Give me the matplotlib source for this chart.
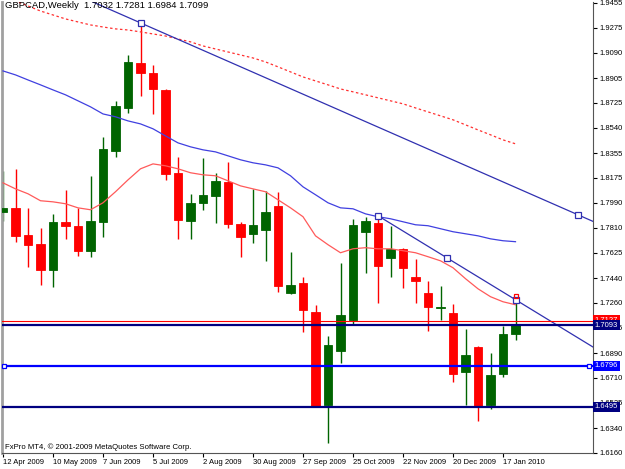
import matplotlib
matplotlib.use("Agg")
import matplotlib.pyplot as plt
import numpy as np

# weekly GBPCAD candles, week 0 = 12 Apr 2009
opens = [1.7925, 1.7954, 1.7757, 1.7691, 1.7501, 1.7852, 1.7823, 1.7640, 1.7852, 1.8372,
         1.8686, 1.9016, 1.8943, 1.8818, 1.8211, 1.7859, 1.7991, 1.8042, 1.8145, 1.7837,
         1.7764, 1.7793, 1.7969, 1.7332, 1.7405, 1.7193, 1.6512, 1.6908, 1.7135, 1.7779,
         1.7845, 1.7588, 1.7654, 1.7449, 1.7332, 1.7219, 1.7186, 1.6754, 1.6937, 1.6512,
         1.6739, 1.7032]
highs = [1.8225, 1.8240, 1.7954, 1.7808, 1.7910, 1.8086, 1.7954, 1.8189, 1.8474, 1.8738,
         1.9074, 1.9309, 1.9001, 1.8825, 1.8328, 1.8057, 1.8320, 1.8211, 1.8291, 1.7852,
         1.8093, 1.8079, 1.8072, 1.7632, 1.7449, 1.7244, 1.7017, 1.7552, 1.7874, 1.7889,
         1.7896, 1.7823, 1.7660, 1.7581, 1.7420, 1.7383, 1.7252, 1.7069, 1.6940, 1.6893,
         1.7091, 1.7281]
lows = [1.7859, 1.7706, 1.7523, 1.7391, 1.7376, 1.7727, 1.7603, 1.7596, 1.7742, 1.8328,
        1.8650, 1.8774, 1.8642, 1.8159, 1.7727, 1.7727, 1.7940, 1.7845, 1.7808, 1.7596,
        1.7698, 1.7566, 1.7340, 1.7325, 1.7047, 1.6498, 1.6234, 1.6820, 1.7098, 1.7479,
        1.7259, 1.7449, 1.7369, 1.7259, 1.7054, 1.7135, 1.6681, 1.6512, 1.6395, 1.6483,
        1.6717, 1.6984]
closes = [1.7954, 1.7749, 1.7684, 1.7501, 1.7852, 1.7823, 1.7640, 1.7859, 1.8386, 1.8701,
          1.9023, 1.8943, 1.8825, 1.8203, 1.7867, 1.7991, 1.8050, 1.8152, 1.7837, 1.7742,
          1.7830, 1.7925, 1.7383, 1.7391, 1.7208, 1.6498, 1.6952, 1.7171, 1.7830, 1.7859,
          1.7530, 1.7654, 1.7515, 1.7420, 1.7230, 1.7226, 1.6739, 1.6878, 1.6498, 1.6732,
          1.7032, 1.7099]

# moving averages
ma_fast = [1.8137, 1.8093, 1.8057, 1.8006, 1.7998, 1.7984, 1.7954, 1.7940, 1.7991, 1.8072,
           1.8159, 1.8240, 1.8276, 1.8262, 1.8240, 1.8211, 1.8196, 1.8189, 1.8152, 1.8115,
           1.8093, 1.8072, 1.8013, 1.7954, 1.7889, 1.7749, 1.7684, 1.7625, 1.7654, 1.7662,
           1.7654, 1.7654, 1.7640, 1.7625, 1.7596, 1.7566, 1.7515, 1.7435, 1.7361, 1.7303,
           1.7266, 1.7244]
ma_mid = [1.8957, 1.8928, 1.8891, 1.8855, 1.8818, 1.8782, 1.8738, 1.8694, 1.8642, 1.8621,
          1.8591, 1.8569, 1.8533, 1.8481, 1.8430, 1.8401, 1.8379, 1.8364, 1.8335, 1.8306,
          1.8284, 1.8269, 1.8247, 1.8189, 1.8108, 1.8050, 1.7991, 1.7954, 1.7947, 1.7910,
          1.7889, 1.7874, 1.7852, 1.7830, 1.7823, 1.7801, 1.7779, 1.7764, 1.7749, 1.7727,
          1.7713, 1.7706]
ma_slow = [1.9499, 1.9470, 1.9433, 1.9396, 1.9367, 1.9338, 1.9316, 1.9294, 1.9279, 1.9265,
           1.9257, 1.9243, 1.9228, 1.9213, 1.9191, 1.9170, 1.9140, 1.9118, 1.9096, 1.9074,
           1.9052, 1.9023, 1.8987, 1.8950, 1.8913, 1.8884, 1.8855, 1.8825, 1.8804, 1.8782,
           1.8760, 1.8738, 1.8716, 1.8686, 1.8657, 1.8628, 1.8599, 1.8562, 1.8525, 1.8489,
           1.8452, 1.8423]

# trendlines (week index, price)
trend1 = [(11, 1.9309), (46, 1.7903)]
trend2 = [(30, 1.7896), (41, 1.7281)]

levels = [1.7093, 1.6796, 1.6495]
level_colors = ["#000080", "#0000ff", "#000080"]
alert_level = 1.7127

ytick_vals = [1.9455, 1.9275, 1.9090, 1.8905, 1.8725, 1.8540, 1.8355, 1.8175, 1.7990,
              1.7810, 1.7625, 1.7440, 1.7260, 1.7075, 1.6890, 1.6710, 1.6525, 1.6340, 1.6160]
date_pos = [0, 4, 8, 12, 16, 20, 24, 28, 32, 36, 40]
date_labels = ["12 Apr 2009", "10 May 2009", "7 Jun 2009", "5 Jul 2009", "2 Aug 2009",
               "30 Aug 2009", "27 Sep 2009", "25 Oct 2009", "22 Nov 2009", "20 Dec 2009",
               "17 Jan 2010"]

plt.rcParams['font.family'] = ['Liberation Sans', 'DejaVu Sans']

fig = plt.figure(figsize=(6.25, 4.69), dpi=100)
ax = fig.add_axes([2 / 625, 16 / 469, 591 / 625, 451 / 469])

idx = np.arange(len(opens))
o = np.array(opens)
c = np.array(closes)
up = c >= o
cols = np.where(up, "#006400", "#ff0000")

ax.vlines(idx, lows, highs, colors=cols, lw=1, zorder=2)
ax.bar(idx, c - o, bottom=o, width=0.66, color=cols, edgecolor=cols, lw=0.6, zorder=3)

ax.plot(idx, ma_fast, color="#ff5a5a", lw=0.9, zorder=4)
ax.plot(idx, ma_mid, color="#4040e0", lw=0.9, zorder=4)
ax.plot(idx, ma_slow, color="#ff3030", lw=0.9, ls=(0, (2, 2)), zorder=4)

tc = "#3030b0"
ax.axline(trend1[0], trend1[1], color=tc, lw=0.9, zorder=5)
x0, y0 = trend2[0]
x1, y1 = trend2[1]
slope = (y1 - y0) / (x1 - x0)
ax.plot([x0, 48], [y0, y0 + slope * (48 - x0)], color=tc, lw=0.9, zorder=5)
sq = [trend1[0], trend1[1], trend2[0], ((x0 + x1) / 2, (y0 + y1) / 2), trend2[1]]
ax.plot([p[0] for p in sq], [p[1] for p in sq], ls="none", marker="s", ms=4,
        mfc="white", mec=tc, mew=0.9, zorder=6)
ax.plot([41], [highs[-1] + 0.0025], ls="none", marker="s", ms=3.5, mfc="none",
        mec="#ff0000", mew=0.9, zorder=6)

ax.axhline(alert_level, color="#ff0000", lw=0.8, zorder=5)
for lv, col in zip(levels, level_colors):
    ax.axhline(lv, color=col, lw=1.6, zorder=5)
ax.plot([0.1, 46.9], [levels[1], levels[1]], ls="none", marker="s", ms=3.5,
        mfc="white", mec="#0000ff", mew=0.9, zorder=6, clip_on=False)

ax.set_xlim(-0.08, 47.2)
ax.set_ylim(1.6158, 1.9462)

ax.yaxis.tick_right()
ax.set_yticks(ytick_vals)
ax.set_yticklabels([f"{v:.4f}" for v in ytick_vals])
ax.set_xticks(date_pos)
ax.set_xticklabels(date_labels, ha="left")
ax.tick_params(axis="both", labelsize=5.5, length=3, width=0.8, pad=1.5, colors="black")

ax.spines["top"].set_visible(False)
ax.spines["left"].set_color("#a0a0a0")
ax.spines["left"].set_linewidth(2)
ax.spines["right"].set_color("#555555")
ax.spines["bottom"].set_color("#555555")

# price labels on the right axis
tr = ax.get_yaxis_transform()
ax.text(1.003, alert_level + 0.0003, f"{alert_level:.4f}", transform=tr, fontsize=5.5,
        color="white", va="center", ha="left", zorder=10, clip_on=False,
        bbox=dict(boxstyle="square,pad=0.2", fc="#ff0000", ec="none"))
for lv, col in zip(levels, level_colors):
    ax.text(1.003, lv, f"{lv:.4f}", transform=tr, fontsize=5.5, color="white",
            va="center", ha="left", zorder=11, clip_on=False,
            bbox=dict(boxstyle="square,pad=0.2", fc=col, ec="none"))

fig.text(5 / 625, 1 - 6 / 469, "GBPCAD,Weekly  1.7032 1.7281 1.6984 1.7099",
         fontsize=6.8, va="center", ha="left")
fig.text(5 / 625, 1 - 447 / 469, "FxPro MT4, \u00a9 2001-2009 MetaQuotes Software Corp.",
         fontsize=5.6, va="center", ha="left")

fig.savefig("out.png", dpi=100, facecolor="white")
